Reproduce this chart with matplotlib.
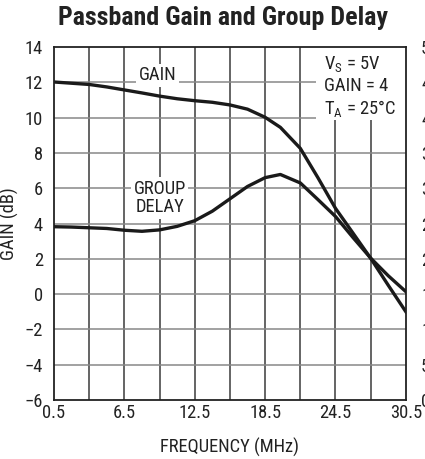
import numpy as np
import matplotlib
matplotlib.use('Agg')
import matplotlib.pyplot as plt
from matplotlib import font_manager
from matplotlib.patches import Rectangle

# frequency points (MHz)
freq = [0.5, 2, 3.5, 5, 6.5, 8, 9.5, 11, 12.5, 14, 15.5, 17, 18.5, 19.8,
        21.5, 23, 24.5, 26, 27.5, 29, 30.5]
# passband gain (dB), left axis
gain_db = [12.02, 11.95, 11.88, 11.74, 11.57, 11.4, 11.22, 11.07, 10.96, 10.87,
           10.72, 10.48, 10.02, 9.45, 8.26, 6.6, 4.86, 3.45, 2.03, 0.5, -1.0]
# group delay (ns), right axis
delay_ns = [24.55, 24.5, 24.4, 24.3, 24.05, 23.9, 24.1, 24.6, 25.4, 26.75,
            28.5, 30.25, 31.5, 31.95, 30.75, 28.4, 26.0, 23.0, 20.1, 17.6, 15.35]

x_ticks = [0.5, 6.5, 12.5, 18.5, 24.5, 30.5]
y_ticks = list(range(-6, 15, 2))
y2_ticks = list(range(0, 51, 5))

names = {f.name for f in font_manager.fontManager.ttflist}
fam = 'DejaVu Sans'
for cand in ['Roboto Condensed', 'Archivo Narrow', 'Arial Narrow',
             'Liberation Sans Narrow', 'PT Sans Narrow', 'Pragati Narrow',
             'IBM Plex Sans Condensed', 'Open Sans Condensed']:
    if cand in names:
        fam = cand
        break
plt.rcParams['font.family'] = [fam, 'DejaVu Sans']

fs = 13.3
ink = '#222222'

fig = plt.figure(figsize=(4.25, 4.59), dpi=100)
ax = fig.add_axes([0.127, 0.1285, 0.828, 0.769])

ax.plot(freq, gain_db, color='#1a1a1a', lw=2.4, zorder=5)
ax.set_xlim(0.5, 30.5)
ax.set_ylim(-6, 14)

# grid
for xv in np.arange(3.5, 30.5, 3):
    ax.axvline(xv, color='#3a3a3a', lw=1.1, zorder=1)
for yv in y_ticks[1:-1]:
    ax.axhline(yv, color='#888888', lw=1.1, zorder=1)
# white patch behind the conditions text
ax.add_patch(Rectangle((22.85, 9.85), 7.65, 4.15, facecolor='white',
                       edgecolor='none', zorder=2))

ax.set_xticks(x_ticks)
ax.set_xticklabels([str(v) for v in x_ticks])
ax.set_yticks(y_ticks)
ax.set_yticklabels([str(v).replace('-', '\u2212') for v in y_ticks])
ax.tick_params(length=0, labelsize=fs, colors=ink, pad=8)
ax.tick_params(axis='x', pad=3)
for s in ax.spines.values():
    s.set_color(ink)
    s.set_linewidth(1.3)
    s.set_zorder(6)

ax2 = ax.twinx()
ax2.plot(freq, delay_ns, color='#1a1a1a', lw=2.4, zorder=5)
ax2.set_ylim(0, 50)
ax2.set_yticks(y2_ticks)
ax2.tick_params(length=0, labelsize=fs, colors=ink, pad=11)
for s in ax2.spines.values():
    s.set_visible(False)

ax.set_xlabel('FREQUENCY (MHz)', fontsize=fs, color=ink, labelpad=11)
ax.set_ylabel('GAIN (dB)', fontsize=fs, color=ink, va='center')
ax.yaxis.set_label_coords(-0.126, 0.5)
fig.suptitle('Passband Gain and Group Delay', fontsize=18.7, fontweight='bold',
             color=ink, x=0.525, y=0.988)

box = dict(facecolor='white', edgecolor='none', pad=2)
ax2.text(9.3, 12.4 * 2.5 + 15, 'GAIN', ha='center', va='center', fontsize=fs,
         color=ink, bbox=box, zorder=6)
ax2.text(9.5, (5.45 + 6) * 2.5, 'GROUP\nDELAY', ha='center', va='center',
         fontsize=fs, color=ink, bbox=box, linespacing=1.0, zorder=6)
ax.text(23.55, 13.6, 'V$_\\mathregular{S}$ = 5V\nGAIN = 4\nT$_\\mathregular{A}$ = 25°C',
        ha='left', va='top', fontsize=fs, color=ink, linespacing=1.2, zorder=6)

fig.savefig('out.png', dpi=100)
